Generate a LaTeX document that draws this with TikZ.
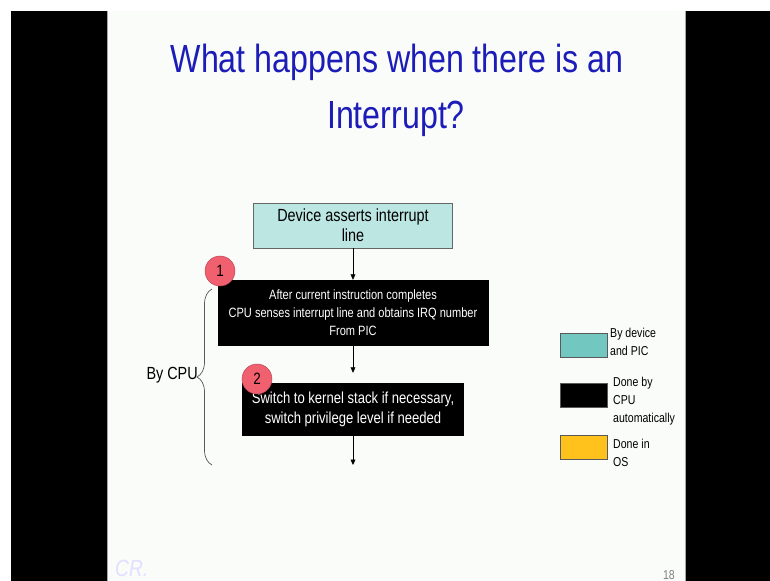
\documentclass[tikz,border=0pt]{standalone}
\usepackage{fontspec}
\setmainfont{Liberation Sans}[FakeStretch=0.82]
\usepackage{xcolor}
\usetikzlibrary{arrows.meta}
\usetikzlibrary{decorations.pathreplacing}

\definecolor{slidebg}{HTML}{FAFCFA}
\definecolor{titleblue}{HTML}{1C1CB8}
\definecolor{devfill}{HTML}{BCE6E2}
\definecolor{legteal}{HTML}{72C8C0}
\definecolor{legyellow}{HTML}{FFC21C}
\definecolor{badgered}{HTML}{F0606E}
\definecolor{badgeedge}{HTML}{B84454}

\begin{document}
\begin{tikzpicture}[x=0.03cm,y=-0.03cm]
\useasboundingbox (0,0) rectangle (770,581);
\fill[white] (0,0) rectangle (770,581);
\fill[black] (11,11) rectangle (107,581);
\fill[black] (686,11) rectangle (770,581);
\fill[slidebg] (108,11) rectangle (685,581);
\draw[gray!70] (107.5,11) -- (107.5,581);
\draw[gray!70] (685.5,11) -- (685.5,581);

\node[anchor=base,text=titleblue,font=\fontsize{33.5}{40}\selectfont] (T1) at (397,72) {What happens when there is an};
\node[anchor=base,text=titleblue,font=\fontsize{33.5}{40}\selectfont] (T2) at (396,128) {Interrupt?};

\begin{scope}[every node/.style={rectangle,align=center,inner sep=0pt}]
    \node[draw=gray!80!black,fill=devfill,minimum width=5.97cm,minimum height=1.35cm,
          font=\fontsize{15}{17}\selectfont] (A) at (353,225.5) {Device asserts interrupt\\line};
    \node[draw=black,fill=black,text=white,minimum width=8.1cm,minimum height=1.95cm,
          font=\fontsize{11.5}{15.3}\selectfont] (B) at (353,312.5) {After current instruction completes\\CPU senses interrupt line and obtains IRQ number\\From PIC};
    \node[draw=black,fill=black,text=white,minimum width=6.63cm,minimum height=1.56cm,
          font=\fontsize{13.6}{17}\selectfont] (C) at (353,409) {Switch to kernel stack if necessary,\\switch privilege level if needed};
    \end{scope}
\coordinate (E) at (353,465);

\draw[gray!70!black,semithick,decorate,decoration={brace,amplitude=0.45cm}] (212,465) -- (212,289);
\node[anchor=east,inner sep=0pt,font=\fontsize{15}{17}\selectfont] (cpu) at (198,375) {By CPU};

\begin{scope}[every node/.style={circle,draw=badgeedge,fill=badgered,minimum size=0.9cm,inner sep=0pt,
              font=\fontsize{14}{16}\selectfont}]
    \node (N1) at (220,271) {1};
    \node (N2) at (257,379) {2};
    \end{scope}

\begin{scope}[>={Triangle[black,length=4.5pt,width=4pt]},
              every edge/.style={draw=black,thin}]
    \path [->] (A) edge (B);
    \path [->] (B) edge[shorten >=0.3cm] (C);
    \path [->] (C) edge (E);
    \end{scope}

\begin{scope}[every node/.style={rectangle,draw=gray!70!black,minimum width=1.41cm,minimum height=0.72cm}]
    \node[fill=legteal] (L1) at (583.5,345) {};
    \node[fill=black] (L2) at (584,395.5) {};
    \node[fill=legyellow] (L3) at (584,447.5) {};
    \end{scope}

\begin{scope}[every node/.style={anchor=north west,align=left,inner sep=0pt,font=\fontsize{11}{15.3}\selectfont}]
    \node (K1) at (610,328) {By device\\and PIC};
    \node (K2) at (613,377) {Done by\\CPU\\automatically};
    \node (K3) at (613,439) {Done in\\OS};
    \end{scope}

\node[anchor=base east,text=gray,font=\fontsize{11}{12}\selectfont] (pg) at (679,579) {18};
\node[anchor=base west,text=blue!12,font=\fontsize{20}{20}\itshape] (logo) at (111,576) {CR.};

\end{tikzpicture}
\end{document}
